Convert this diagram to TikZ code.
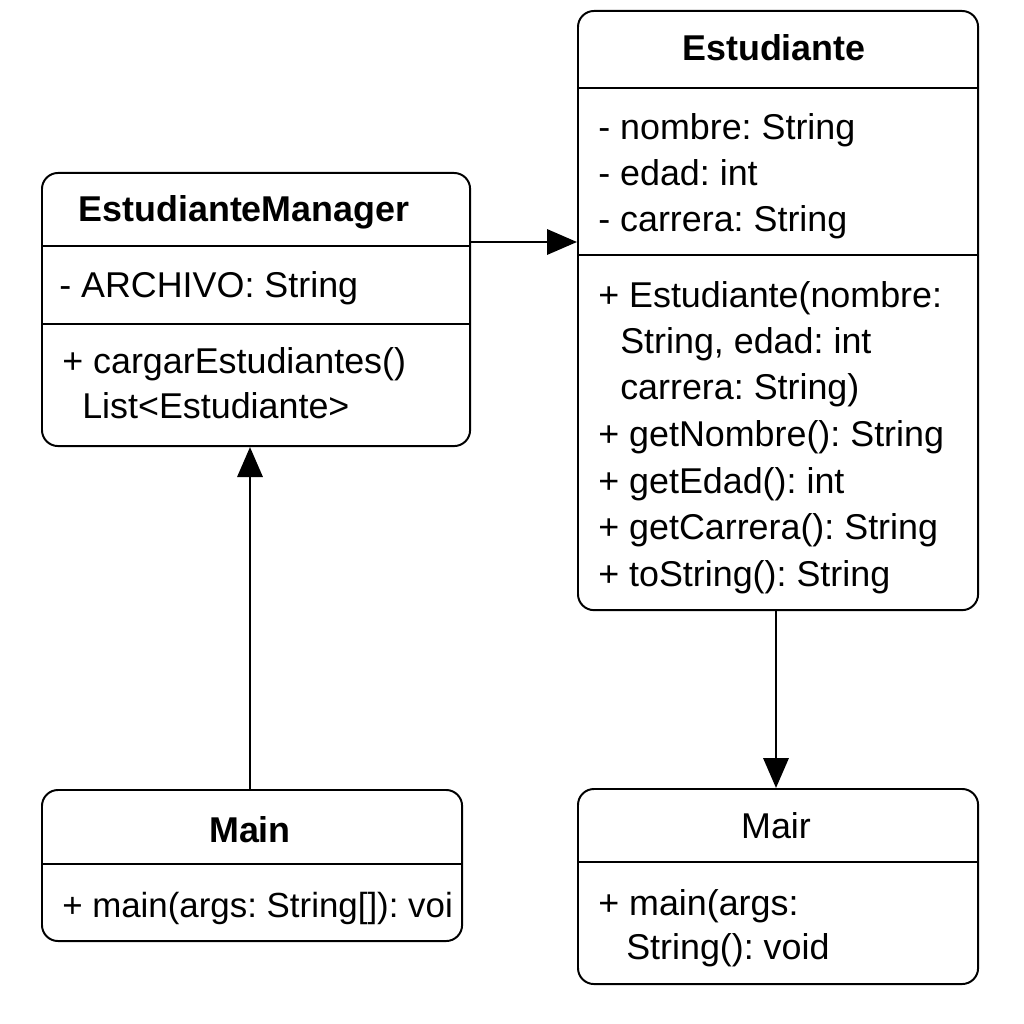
\documentclass[tikz,border=0pt]{standalone}
\usepackage{fontspec}
\setmainfont{Liberation Sans}
\usetikzlibrary{arrows.meta}
\frenchspacing
\tikzset{
  classbox/.style={draw, line width=1.4pt, rounded corners=0.4cm, anchor=north west, inner sep=0pt},
  member/.style={anchor=base west, inner sep=0pt, font=\fontsize{25.5}{30}\selectfont},
  classname/.style={anchor=base, inner sep=0pt, font=\bfseries\fontsize{25.5}{30}\selectfont},
  divider/.style={line width=1.4pt},
  uses/.style={-{Triangle[length=0.75cm,width=0.63cm]}, line width=2pt},
}
\begin{document}
\begin{tikzpicture}[x=0.025cm, y=-0.025cm]
  \useasboundingbox (0,0) rectangle (1024,1024);
  % class boxes
  \node[classbox, minimum width=10.7cm, minimum height=6.825cm] (em) at (41,172) {};
  \node[classbox, minimum width=10cm, minimum height=14.975cm] (est) at (577,10) {};
  \node[classbox, minimum width=10.5cm, minimum height=3.775cm] (mainl) at (41,789) {};
  \node[classbox, minimum width=10cm, minimum height=4.875cm] (mainr) at (577,788) {};
  % compartments
  \draw[divider] (em.west |- 0,246) -- (em.east |- 0,246);
  \draw[divider] (em.west |- 0,324) -- (em.east |- 0,324);
  \draw[divider] (est.west |- 0,88) -- (est.east |- 0,88);
  \draw[divider] (est.west |- 0,255) -- (est.east |- 0,255);
  \draw[divider] (mainl.west |- 0,864) -- (mainl.east |- 0,864);
  \draw[divider] (mainr.west |- 0,862) -- (mainr.east |- 0,862);
  % EstudianteManager
  \node[classname] (emname) at (244,222) {EstudianteManager};
  \node[member] (emattr) at (59,297) {- ARCHIVO: String};
  \node[member] (emop1) at (62,373) {+ cargarEstudiantes()};
  \node[member] (emop2) at (82,418) {List<Estudiante>};
  % Estudiante
  \node[classname] (estname) at (774,61) {Estudiante};
  \node[member] (estattr1) at (598,140) {- nombre: String};
  \node[member] (estattr2) at (598,186) {- edad: int};
  \node[member] (estattr3) at (598,232) {- carrera: String};
  \node[member] (estop1) at (598,307) {+ Estudiante(nombre:};
  \node[member] (estop2) at (620,353) {String, edad: int};
  \node[member] (estop3) at (620,399) {carrera: String)};
  \node[member] (estop4) at (598,446) {+ getNombre(): String};
  \node[member] (estop5) at (598,493) {+ getEdad(): int};
  \node[member] (estop6) at (598,539) {+ getCarrera(): String};
  \node[member] (estop7) at (598,586) {+ toString(): String};
  % Main (left)
  \node[classname] (mainlname) at (250,842) {Main};
  \node[member, font=\fontsize{24.8}{30}\selectfont] (mainlop) at (62,917) {+ main(args: String[]): voi};
  % Main (right)
  \node[classname, font=\fontsize{25.5}{30}\selectfont] (mainrname) at (776,838) {Mair};
  \node[member] (mainrop1) at (598,915) {+ main(args:};
  \node[member] (mainrop2) at (626,959) {String(): void};
  % connectors
  \coordinate (emarrow) at (469,242);
  \draw[uses] (em.east |- emarrow) -- (est.west |- emarrow);
  \draw[uses] (mainl.north -| 250,0) -- (em.south -| 250,0);
  \draw[uses] (est.south -| 776,0) -- (mainr.north -| 776,0);
\end{tikzpicture}
\end{document}
